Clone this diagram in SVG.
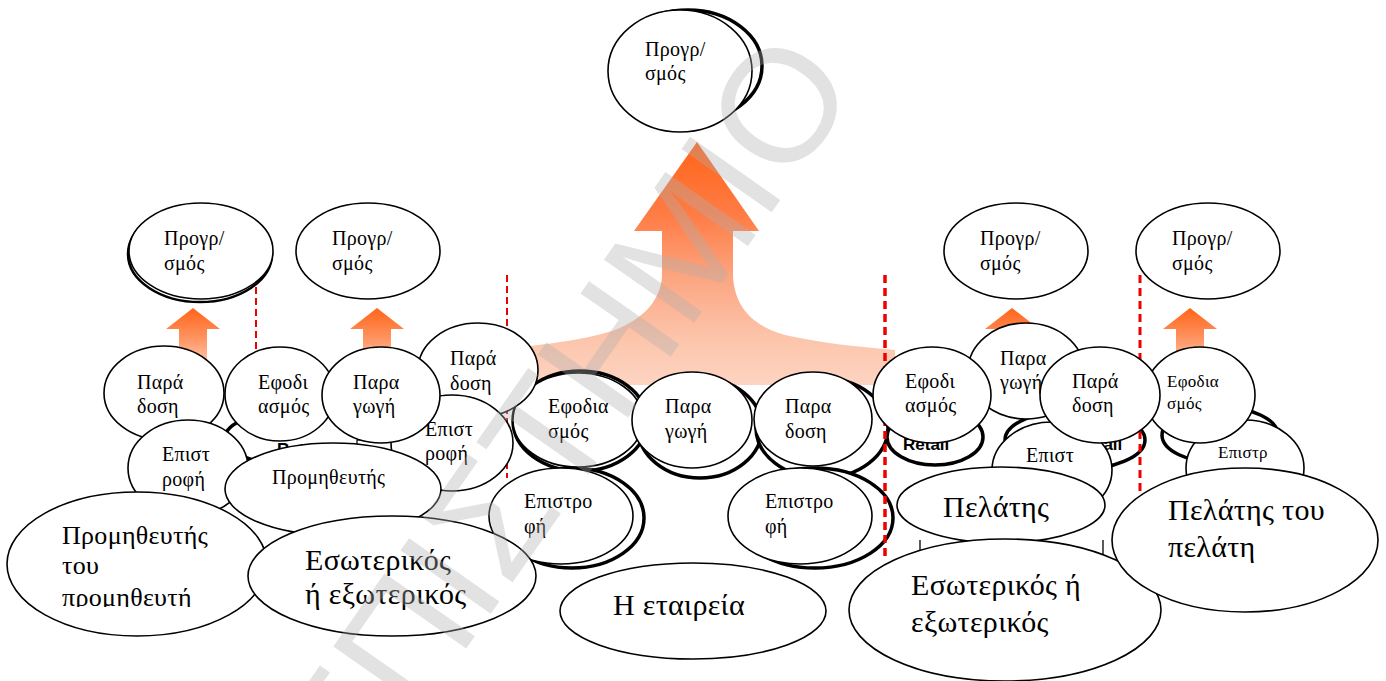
<svg xmlns="http://www.w3.org/2000/svg" width="1386" height="681" viewBox="0 0 1386 681">
  <defs>
    <style>
      .n { fill:#fff; stroke:#000; stroke-width:1.6; }
      .b { fill:#fff; stroke:#000; stroke-width:3.5; }
      .bt { fill:#fff; stroke:#000; stroke-width:2.5; }
      .t { font-family:"Liberation Serif","DejaVu Serif",serif; font-size:20px; fill:#000; letter-spacing:0.3px; }
      .ts { font-size:17px; }
      .tm { font-size:26px; }
      .tl { font-size:30px; }
      .rt { font-family:"Liberation Sans",Arial,sans-serif; font-weight:bold; font-size:17px; fill:#000; }
      .dash { fill:none; stroke:#ee0000; }
      .wm { font-family:"Liberation Sans",Arial,sans-serif; font-size:160px; fill:#b0b0b0; fill-opacity:0.36; }
    </style>
    <linearGradient id="gBig" gradientUnits="userSpaceOnUse" x1="0" y1="142" x2="0" y2="385">
      <stop offset="0" stop-color="#ff6418"/>
      <stop offset="0.3" stop-color="#ff7c45"/>
      <stop offset="0.55" stop-color="#fca47f"/>
      <stop offset="0.8" stop-color="#fcc4aa"/>
      <stop offset="1" stop-color="#fdd4c2"/>
    </linearGradient>
    <linearGradient id="gSmall" gradientUnits="userSpaceOnUse" x1="0" y1="308" x2="0" y2="392">
      <stop offset="0" stop-color="#ff6418"/>
      <stop offset="0.35" stop-color="#ff925f"/>
      <stop offset="0.7" stop-color="#ffcdb5"/>
      <stop offset="1" stop-color="#fff4ee"/>
    </linearGradient>
    <clipPath id="clipL1"><rect x="0" y="480" width="270" height="127"/></clipPath>
    <clipPath id="clipL2"><rect x="240" y="510" width="300" height="100"/></clipPath>
  </defs>

  <!-- upward flow arrows -->
  <g id="arrows">
    <path fill="url(#gBig)" d="M697,142 L759,231 L733,231 L733,277 C735,305 750,325 785,335 C820,343 860,347 895,350 L895,385 L520,385 L520,347 C560,343 595,337 615,330 C645,318 660,300 662,277 L662,231 L634,231 Z"/>
    <path fill="url(#gSmall)" d="M193,308 L220,329 L207,329 L207,392 L179,392 L179,329 L166,329 Z"/>
    <path fill="url(#gSmall)" d="M377,308 L404,329 L391,329 L391,392 L363,392 L363,329 L350,329 Z"/>
    <path fill="url(#gSmall)" d="M1012,308 L1039,329 L1026,329 L1026,392 L998,392 L998,329 L985,329 Z"/>
    <path fill="url(#gSmall)" d="M1190,308 L1217,329 L1204,329 L1204,392 L1176,392 L1176,329 L1163,329 Z"/>
  </g>

  <!-- planning level -->
  <g id="plan-top">
    <ellipse class="b" cx="688" cy="66" rx="74" ry="56"/>
    <ellipse class="n" cx="680" cy="71" rx="72" ry="61"/>
    <text class="t"><tspan x="645" y="56">Προγρ/</tspan><tspan x="645" y="80">σμός</tspan></text>
  </g>
  <g id="plan-supplier2">
    <ellipse class="bt" cx="200" cy="254" rx="72" ry="48"/>
    <ellipse class="n" cx="201" cy="251" rx="72" ry="48"/>
    <text class="t"><tspan x="164" y="245">Προγρ/</tspan><tspan x="164" y="270">σμός</tspan></text>
  </g>
  <g id="plan-supplier">
    <ellipse class="n" cx="368" cy="251" rx="72" ry="48"/>
    <text class="t"><tspan x="332" y="245">Προγρ/</tspan><tspan x="332" y="270">σμός</tspan></text>
  </g>
  <g id="plan-customer">
    <ellipse class="n" cx="1016" cy="251" rx="72" ry="48"/>
    <text class="t"><tspan x="980" y="245">Προγρ/</tspan><tspan x="980" y="270">σμός</tspan></text>
  </g>
  <g id="plan-customer2">
    <ellipse class="n" cx="1208" cy="251" rx="72" ry="48"/>
    <text class="t"><tspan x="1172" y="245">Προγρ/</tspan><tspan x="1172" y="270">σμός</tspan></text>
  </g>

  <!-- shapes lying behind the process bubbles -->
  <g id="back-shapes">
    <ellipse class="b" cx="300" cy="438" rx="75" ry="28"/>
    <text class="rt" x="277" y="455">Retail</text>
    <rect x="357" y="440" width="36" height="20" fill="#fff" stroke="#000" stroke-width="1.2"/>
    <ellipse class="b" cx="580" cy="421" rx="67" ry="50"/>
    <ellipse class="b" cx="700" cy="428" rx="62" ry="50"/>
    <ellipse class="b" cx="822" cy="428" rx="66" ry="50"/>
    <ellipse class="b" cx="572" cy="518" rx="72" ry="50"/>
    <ellipse class="b" cx="815" cy="518" rx="78" ry="50"/>
    <ellipse class="b" cx="935" cy="437" rx="48" ry="28"/>
    <text class="rt" x="903" y="450">Retail</text>
    <ellipse class="b" cx="1075" cy="440" rx="70" ry="30"/>
    <text class="rt" x="1076" y="450">Retail</text>
    <ellipse class="b" cx="1220" cy="435" rx="58" ry="28"/>
  </g>

  <!-- boundaries between the chain members -->
  <g id="connectors">
    <line class="dash" x1="256" y1="287" x2="256" y2="350" stroke-width="2" stroke-dasharray="7 4"/>
    <line class="dash" x1="507" y1="275" x2="507" y2="478" stroke-width="2" stroke-dasharray="7 4"/>
    <line class="dash" x1="885" y1="275" x2="885" y2="558" stroke-width="3.5" stroke-dasharray="8 5"/>
    <line class="dash" x1="1140" y1="275" x2="1140" y2="500" stroke-width="3" stroke-dasharray="8 5"/>
  </g>

  <!-- the company -->
  <g id="company-source">
    <ellipse class="n" cx="578" cy="420" rx="65" ry="47"/>
    <text class="t"><tspan x="548" y="413">Εφοδια</tspan><tspan x="548" y="438">σμός</tspan></text>
  </g>
  <g id="company-deliver">
    <ellipse class="n" cx="813" cy="419" rx="59" ry="47"/>
    <text class="t"><tspan x="785" y="413">Παρα</tspan><tspan x="785" y="438">δοση</tspan></text>
  </g>
  <g id="company-make">
    <ellipse class="n" cx="692" cy="420" rx="60" ry="48"/>
    <text class="t"><tspan x="665" y="413">Παρα</tspan><tspan x="665" y="438">γωγή</tspan></text>
  </g>
  <g id="company-return-in">
    <ellipse class="n" cx="561" cy="516" rx="72" ry="48"/>
    <text class="t"><tspan x="524" y="508">Επιστρο</tspan><tspan x="524" y="533">φή</tspan></text>
  </g>
  <g id="company-return-out">
    <ellipse class="n" cx="800" cy="516" rx="72" ry="48"/>
    <text class="t"><tspan x="765" y="508">Επιστρο</tspan><tspan x="765" y="533">φή</tspan></text>
  </g>
  <g id="company">
    <ellipse class="n" cx="693" cy="611" rx="133" ry="48"/>
    <text class="t tl" x="613" y="615">Η εταιρεία</text>
  </g>

  <!-- supplier side -->
  <g id="supplier-deliver">
    <ellipse class="n" cx="478" cy="370" rx="60" ry="47"/>
    <text class="t"><tspan x="450" y="365">Παρά</tspan><tspan x="450" y="390">δοση</tspan></text>
  </g>
  <g id="supplier2-deliver">
    <ellipse class="n" cx="164" cy="393" rx="60" ry="47"/>
    <text class="t"><tspan x="137" y="389">Παρά</tspan><tspan x="137" y="413">δοση</tspan></text>
  </g>
  <g id="supplier-source">
    <ellipse class="n" cx="280" cy="394" rx="55" ry="47"/>
    <text class="t"><tspan x="258" y="389">Εφοδι</tspan><tspan x="258" y="413">ασμός</tspan></text>
  </g>
  <g id="supplier-return-out">
    <ellipse class="n" cx="452" cy="443" rx="61" ry="48"/>
    <text class="t"><tspan x="425" y="436">Επιστ</tspan><tspan x="425" y="460">ροφή</tspan></text>
  </g>
  <g id="supplier-make">
    <ellipse class="n" cx="381" cy="395" rx="59" ry="48"/>
    <text class="t"><tspan x="353" y="389">Παρα</tspan><tspan x="353" y="413">γωγή</tspan></text>
  </g>
  <g id="supplier-return-in">
    <ellipse class="n" cx="188" cy="468" rx="60" ry="48"/>
    <text class="t"><tspan x="162" y="461">Επιστ</tspan><tspan x="162" y="486">ροφή</tspan></text>
  </g>
  <g id="supplier">
    <ellipse class="n" cx="333" cy="489" rx="108" ry="46"/>
    <text class="t" x="272" y="484">Προμηθευτής</text>
  </g>
  <g id="supplier-of-supplier">
    <ellipse class="n" cx="137" cy="564" rx="130" ry="72"/>
    <text class="t tm" clip-path="url(#clipL1)"><tspan x="62" y="544">Προμηθευτής</tspan><tspan x="62" y="574">του</tspan><tspan x="62" y="606">προμηθευτή</tspan></text>
  </g>
  <g id="supplier-type">
    <ellipse class="n" cx="392" cy="576" rx="144" ry="60"/>
    <text class="t tl" clip-path="url(#clipL2)"><tspan x="305" y="570">Εσωτερικός</tspan><tspan x="305" y="604">ή εξωτερικός</tspan></text>
  </g>

  <!-- customer side -->
  <g id="customer-return-in">
    <ellipse class="n" cx="1052" cy="470" rx="60" ry="48"/>
    <text class="t" x="1026" y="462">Επιστ</text>
  </g>
  <g id="customer2-return">
    <ellipse class="n" cx="1245" cy="468" rx="59" ry="48"/>
    <text class="t ts" x="1218" y="458">Επιστρ</text>
  </g>
  <g id="customer-make">
    <ellipse class="n" cx="1026" cy="371" rx="58" ry="48"/>
    <text class="t"><tspan x="1000" y="365">Παρα</tspan><tspan x="1000" y="389">γωγή</tspan></text>
  </g>
  <g id="customer-source">
    <ellipse class="n" cx="932" cy="395" rx="59" ry="48"/>
    <text class="t"><tspan x="905" y="388">Εφοδι</tspan><tspan x="905" y="412">ασμός</tspan></text>
  </g>
  <g id="customer2-source">
    <ellipse class="n" cx="1200" cy="395" rx="55" ry="48"/>
    <text class="t ts"><tspan x="1167" y="387">Εφοδια</tspan><tspan x="1167" y="409">σμός</tspan></text>
  </g>
  <g id="customer-deliver">
    <ellipse class="n" cx="1100" cy="395" rx="60" ry="48"/>
    <text class="t"><tspan x="1072" y="388">Παρά</tspan><tspan x="1072" y="412">δοση</tspan></text>
  </g>
  <g id="customer">
    <ellipse class="n" cx="1001" cy="505" rx="104" ry="38"/>
    <text class="t tl" x="943" y="517">Πελάτης</text>
  </g>
  <g id="ticks">
    <line x1="920" y1="540" x2="920" y2="560" stroke="#000" stroke-width="1.3"/>
    <line x1="1103" y1="540" x2="1103" y2="560" stroke="#000" stroke-width="1.3"/>
  </g>
  <g id="customer-type">
    <ellipse class="n" cx="1005" cy="610" rx="156" ry="71"/>
    <text class="t tl"><tspan x="911" y="595">Εσωτερικός ή</tspan><tspan x="911" y="632">εξωτερικός</tspan></text>
  </g>
  <g id="customer-of-customer">
    <ellipse class="n" cx="1245" cy="540" rx="133" ry="72"/>
    <text class="t tl"><tspan x="1168" y="520">Πελάτης του</tspan><tspan x="1168" y="557">πελάτη</tspan></text>
  </g>

  <!-- diagonal watermark -->
  <g id="watermark">
    <text class="wm" transform="translate(778,104) rotate(-55)" x="-1157" y="57">ΠΑΝΕΠΙΣΤΗΜΙΟ</text>
  </g>
</svg>
